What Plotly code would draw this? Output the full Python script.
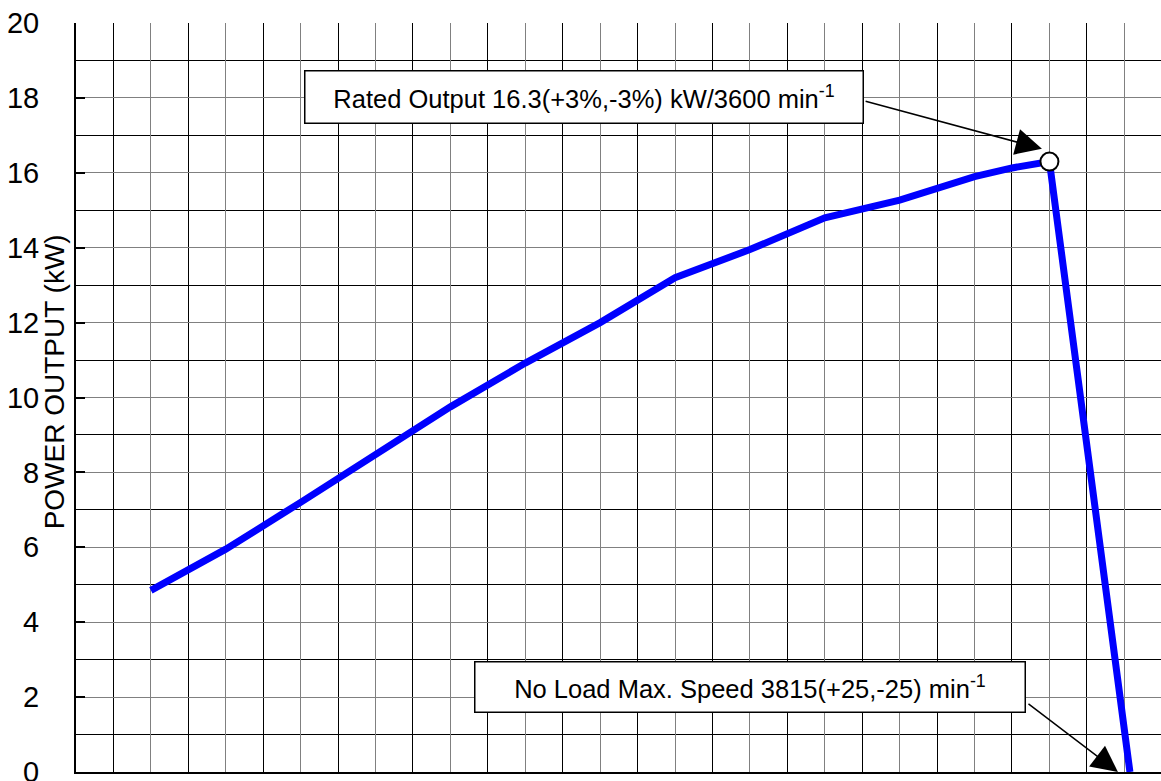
import plotly.graph_objects as go

# ---- data ----
speed = [1200, 1400, 1600, 1800, 2000, 2200, 2400, 2600, 2800, 3000, 3200, 3400, 3500, 3600, 3815]
power = [4.85, 5.95, 7.2, 8.5, 9.75, 10.92, 12.0, 13.2, 13.95, 14.8, 15.27, 15.9, 16.13, 16.3, 0.0]
rated_speed = [3600]
rated_power = [16.3]
y_ticks = [0, 2, 4, 6, 8, 10, 12, 14, 16, 18, 20]

FONT = "Liberation Sans, Arial, sans-serif"

fig = go.Figure()
fig.add_trace(go.Scatter(
    x=speed, y=power, mode="lines",
    line=dict(color="#0000FF", width=7),
    showlegend=False, hoverinfo="skip",
))
fig.add_trace(go.Scatter(
    x=rated_speed, y=rated_power, mode="markers",
    marker=dict(size=18, color="white", line=dict(color="black", width=2)),
    showlegend=False, hoverinfo="skip",
))

fig.update_layout(
    width=1161, height=781,
    margin=dict(l=76, r=0, t=23, b=9, autoexpand=False),
    paper_bgcolor="white", plot_bgcolor="white",
    font=dict(family=FONT, color="black"),
    xaxis=dict(
        range=[1000, 3898], dtick=200, tick0=1000,
        showgrid=True, gridcolor="#808080", gridwidth=1,
        minor=dict(dtick=100, tick0=1000, showgrid=True, gridcolor="#000000", gridwidth=1),
        showticklabels=False, ticks="",
        showline=True, linecolor="black", linewidth=2,
        zeroline=False, fixedrange=True, automargin=False,
    ),
    yaxis=dict(
        range=[0, 20], tickvals=y_ticks,
        showgrid=True, gridcolor="#808080", gridwidth=1,
        minor=dict(dtick=1, tick0=0, showgrid=True, gridcolor="#000000", gridwidth=1),
        ticks="inside", ticklen=9, tickcolor="black", tickwidth=1.5,
        tickfont=dict(size=29, family=FONT, color="black"),
        ticklabelstandoff=29, ticklabeloverflow="allow",
        showline=True, linecolor="black", linewidth=2,
        zeroline=False, fixedrange=True, automargin=False,
    ),
)

# axis title placed like the reference (overlapping tick labels)
fig.add_annotation(
    text="POWER OUTPUT (kW)", textangle=-90,
    xref="paper", yref="y", x=-0.0203, y=10.43,
    xanchor="center", yanchor="middle", showarrow=False,
    font=dict(size=28, family=FONT, color="black"),
)

# text boxes
fig.add_annotation(
    text="Rated Output 16.3(+3%,-3%) kW/3600 min<sup>-1</sup>",
    xref="x", yref="y", x=2358, y=18.03, showarrow=False,
    xanchor="center", yanchor="middle",
    width=557, height=51, align="center", valign="middle",
    bgcolor="white", bordercolor="black", borderwidth=1.5, borderpad=0,
    font=dict(size=25.5, family=FONT, color="black"),
)
fig.add_annotation(
    text="No Load Max. Speed 3815(+25,-25) min<sup>-1</sup>",
    xref="x", yref="y", x=2801, y=2.27, showarrow=False,
    xanchor="center", yanchor="middle",
    width=549, height=49, align="center", valign="middle",
    bgcolor="white", bordercolor="black", borderwidth=1.5, borderpad=0,
    font=dict(size=25.5, family=FONT, color="black"),
)

# arrows
fig.add_annotation(
    text="", xref="x", yref="y", axref="x", ayref="y",
    x=3580, y=16.64, ax=3105, ay=17.92,
    showarrow=True, arrowhead=2, arrowsize=3.5, arrowwidth=1.5, arrowcolor="black",
    font=dict(size=1),
)
fig.add_annotation(
    text="", xref="x", yref="y", axref="x", ayref="y",
    x=3783, y=0.0, ax=3540, ay=1.85,
    showarrow=True, arrowhead=2, arrowsize=3.5, arrowwidth=1.5, arrowcolor="black",
    font=dict(size=1),
)

fig.write_html(
    "out.html",
    config={"displayModeBar": False},
    post_script="document.body.style.margin='0';document.body.style.overflow='hidden';",
)
